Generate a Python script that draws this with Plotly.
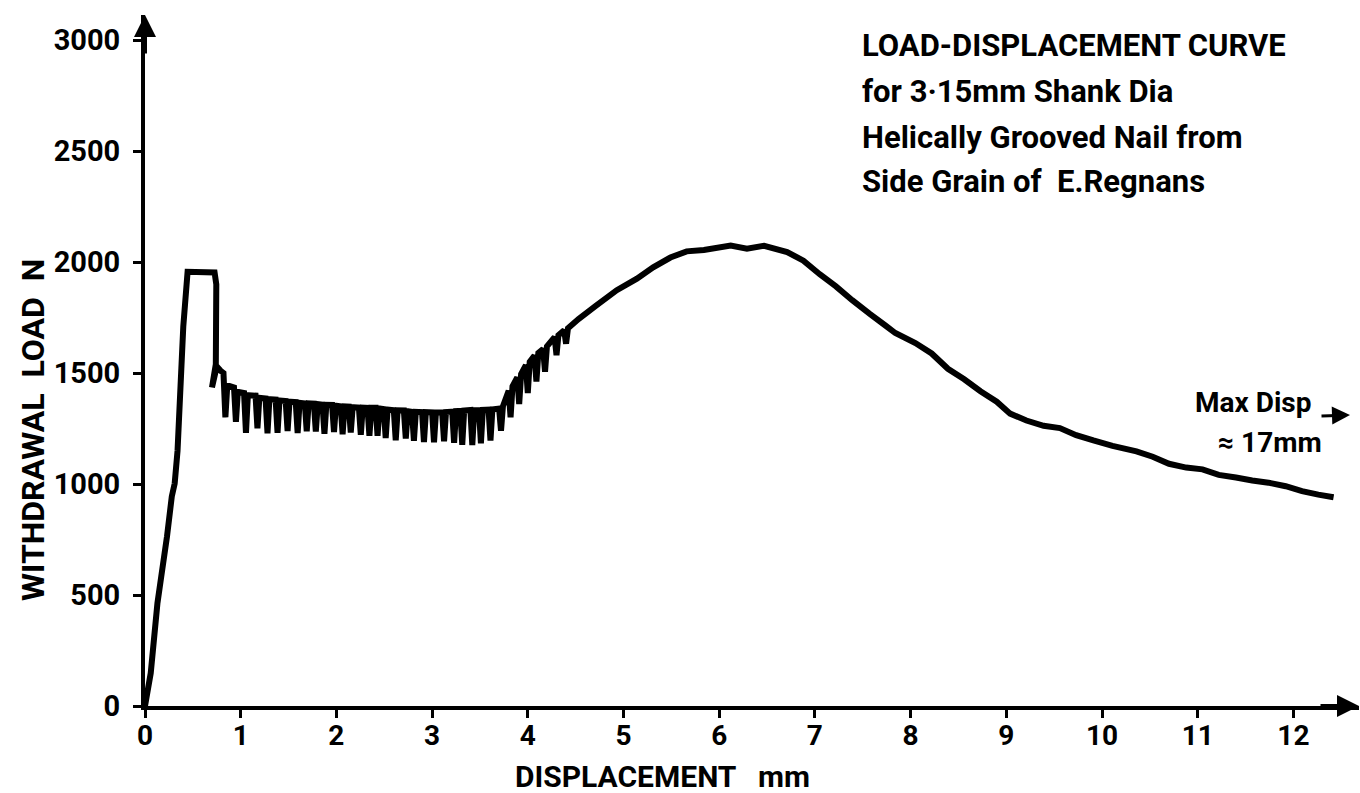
import plotly.graph_objects as go

# ---- data (displacement mm, load N) ----
displacement_mm = [
    0.00, 0.06, 0.13, 0.17, 0.23, 0.28, 0.31, 0.34, 0.40, 0.445, 0.727, 0.745, 0.74, 0.70, 0.75, 0.79,
    0.82, 0.84, 0.86, 0.93, 0.95, 0.97, 1.035, 1.055, 1.075, 1.155, 1.175, 1.195,
    1.26, 1.28, 1.30, 1.365, 1.385, 1.405, 1.47, 1.49, 1.51, 1.575, 1.595, 1.615,
    1.67, 1.69, 1.71, 1.765, 1.785, 1.805, 1.855, 1.875, 1.895, 1.955, 1.975, 1.995,
    2.045, 2.065, 2.085, 2.13, 2.15, 2.17, 2.235, 2.255, 2.275, 2.325, 2.345, 2.365,
    2.41, 2.43, 2.45, 2.495, 2.515, 2.535, 2.60, 2.62, 2.64, 2.705, 2.725, 2.745,
    2.79, 2.81, 2.83, 2.895, 2.915, 2.935, 3.00, 3.02, 3.04, 3.105, 3.125, 3.145,
    3.21, 3.23, 3.25, 3.295, 3.315, 3.335, 3.40, 3.42, 3.44, 3.49, 3.51, 3.53,
    3.59, 3.61, 3.63, 3.70, 3.72, 3.74,
    3.80, 3.82, 3.84, 3.89, 3.91, 3.93, 3.98, 4.00, 4.02, 4.07, 4.09, 4.11,
    4.16, 4.18, 4.20, 4.28, 4.30, 4.32, 4.38, 4.40, 4.42,
    4.53, 4.71, 4.93, 5.14, 5.31, 5.49, 5.66, 5.84, 6.12, 6.29, 6.47, 6.71, 6.88,
    7.05, 7.22, 7.39, 7.57, 7.74, 7.84, 8.05, 8.22, 8.39, 8.56, 8.73, 8.90, 9.04,
    9.21, 9.39, 9.56, 9.73, 9.91, 10.11, 10.36, 10.53, 10.70, 10.88, 11.05, 11.22,
    11.40, 11.57, 11.74, 11.92, 12.09, 12.26, 12.42,
]
load_N = [
    0, 148, 463, 584, 764, 944, 1002, 1150, 1709, 1956, 1953, 1899, 1540, 1435, 1530, 1510,
    1500, 1300, 1445, 1435, 1280, 1415, 1410, 1230, 1400, 1398, 1251, 1388,
    1385, 1228, 1382, 1380, 1231, 1376, 1374, 1239, 1371, 1369, 1229, 1366,
    1363, 1237, 1363, 1362, 1236, 1360, 1357, 1226, 1357, 1356, 1234, 1353,
    1350, 1224, 1350, 1349, 1232, 1346, 1344, 1222, 1344, 1343, 1217, 1343,
    1343, 1217, 1340, 1337, 1207, 1335, 1332, 1197, 1332, 1331, 1205, 1328,
    1325, 1195, 1325, 1324, 1189, 1324, 1323, 1188, 1322, 1322, 1192, 1324,
    1326, 1186, 1328, 1329, 1176, 1331, 1333, 1175, 1332, 1332, 1183, 1334,
    1335, 1196, 1336, 1340, 1240, 1350,
    1420, 1300, 1440, 1480, 1360, 1495, 1535, 1410, 1550, 1578, 1462, 1590,
    1608, 1506, 1620, 1662, 1580, 1670, 1692, 1632, 1702,
    1743, 1802, 1873, 1925, 1976, 2020, 2048, 2054, 2074, 2060, 2073, 2045, 2006,
    1945, 1890, 1828, 1767, 1713, 1680, 1635, 1588, 1519, 1472, 1418, 1371, 1317,
    1286, 1262, 1252, 1220, 1196, 1172, 1147, 1123, 1091, 1074, 1066, 1041,
    1029, 1016, 1006, 990, 968, 952, 940,
]
x_ticks = [0, 1, 2, 3, 4, 5, 6, 7, 8, 9, 10, 11, 12]
y_ticks = [0, 500, 1000, 1500, 2000, 2500, 3000]
title_lines = ["LOAD-DISPLACEMENT CURVE", "for 3·15mm Shank Dia",
               "Helically Grooved Nail from", "Side Grain of  E.Regnans"]
x_title = "DISPLACEMENT   mm"
y_title = "WITHDRAWAL  LOAD  N"
note_1 = "Max Disp"
note_2 = "≈ 17mm"

# ---- layout geometry (pixels) ----
W, H = 1360, 793
L, R, T, B = 145, 1, 15, 87
PW, PH = W - L - R, H - T - B
X_RANGE = [0, PW / 95.7]
Y_RANGE = [0, PH / 0.222]
FONT = "Roboto, Liberation Sans, sans-serif"


def px(xp):
    return (xp - L) / PW


def py(yp):
    return (H - B - yp) / PH


fig = go.Figure()
fig.add_trace(go.Scatter(x=displacement_mm, y=load_N, mode="lines",
                         line=dict(color="black", width=6, simplify=False),
                         hoverinfo="x+y", showlegend=False))

tfont = dict(family=FONT, size=28, color="black", weight="bold")
fig.update_layout(
    xaxis=dict(range=X_RANGE, tickmode="array", tickvals=x_ticks,
               ticktext=[str(v) for v in x_ticks], ticks="outside", ticklen=8,
               tickwidth=3, tickcolor="black", showline=True,
               linecolor="black", linewidth=4, showgrid=False, zeroline=False,
               tickfont=tfont, ticklabelstandoff=-7),
    yaxis=dict(range=Y_RANGE, tickmode="array", tickvals=y_ticks,
               ticktext=[str(v) for v in y_ticks], ticks="outside", ticklen=8,
               tickwidth=3, tickcolor="black", showline=True,
               linecolor="black", linewidth=4, showgrid=False, zeroline=False,
               tickfont=dict(family=FONT, size=29, color="black", weight="bold"),
               ticklabelstandoff=7),
)

ann = []
ys = [45, 92, 137, 182]
for txt, yy in zip(title_lines, ys):
    ann.append(dict(text=txt, xref="paper", yref="paper", x=px(860), y=py(yy),
                    xanchor="left", yanchor="middle", showarrow=False,
                    font=dict(family=FONT, size=31, color="black", weight="bold")))
ann.append(dict(text=note_1, xref="paper", yref="paper", x=px(1313), y=py(402),
                xanchor="right", yanchor="middle", showarrow=False,
                font=dict(family=FONT, size=28, color="black", weight="bold")))
ann.append(dict(text=note_2, xref="paper", yref="paper", x=px(1324), y=py(442),
                xanchor="right", yanchor="middle", showarrow=False,
                font=dict(family=FONT, size=28, color="black", weight="bold")))
# small arrow next to "Max Disp"
ann.append(dict(text="", xref="paper", yref="paper", x=px(1350), y=py(415),
                ax=-30, ay=1, showarrow=True, arrowhead=2, arrowsize=1.2,
                arrowwidth=3, arrowcolor="black"))
# axis arrowheads
ann.append(dict(text="", xref="paper", yref="paper", x=1, y=0, ax=-40, ay=0,
                showarrow=True, arrowhead=2, arrowsize=1.1, arrowwidth=4, arrowcolor="black"))
ann.append(dict(text="", xref="paper", yref="paper", x=0, y=1, ax=0, ay=40,
                showarrow=True, arrowhead=2, arrowsize=1.1, arrowwidth=4, arrowcolor="black"))
# axis titles
ann.append(dict(text=x_title, xref="paper", yref="paper", x=px(662), y=py(776),
                xanchor="center", yanchor="middle", showarrow=False,
                font=dict(family=FONT, size=30, color="black", weight="bold")))
ann.append(dict(text=y_title, xref="paper", yref="paper", x=px(33), y=py(430),
                xanchor="center", yanchor="middle", showarrow=False, textangle=-90,
                font=dict(family=FONT, size=32, color="black", weight="bold")))

fig.update_layout(template="none", width=W, height=H,
                  margin=dict(l=L, r=R, t=T, b=B, pad=0),
                  paper_bgcolor="white", plot_bgcolor="white", annotations=ann)

fig.write_html("out.html")
